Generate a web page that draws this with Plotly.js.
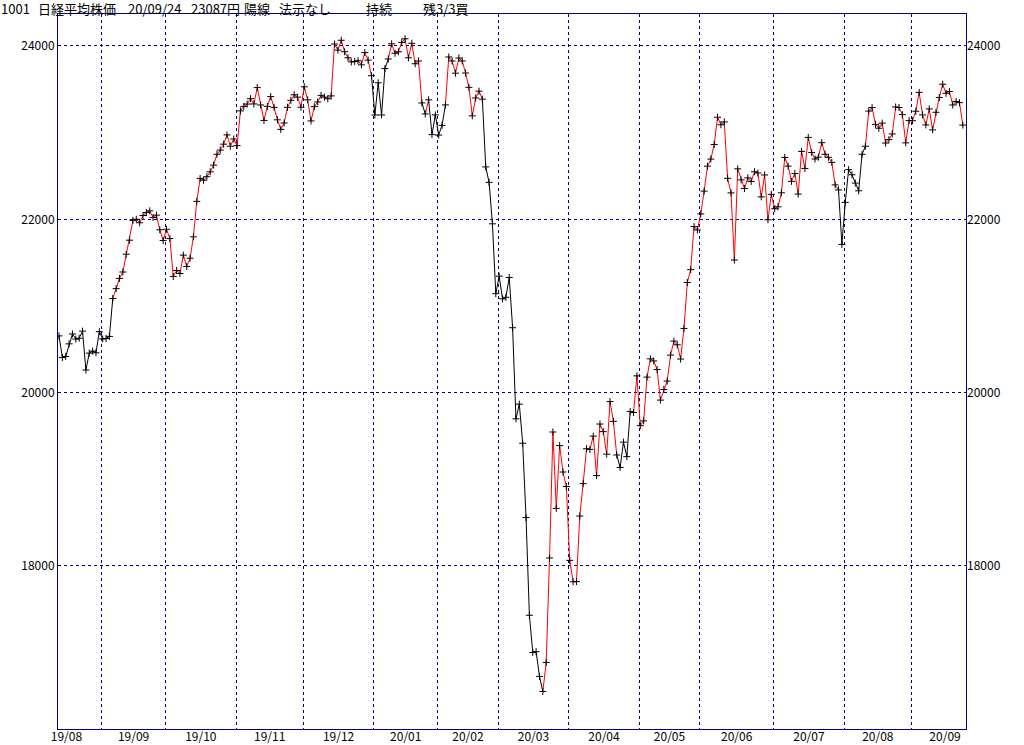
<!DOCTYPE html>
<html>
<head>
<meta charset="utf-8">
<script src="https://cdn.plot.ly/plotly-3.0.1.min.js"></script>
<style>
html,body{margin:0;padding:0;background:#fff;}
#chart{width:1024px;height:745px;}
</style>
</head>
<body>
<div id="chart"></div>
<script>
// Month tick labels
const monthLabels = ['19/08','19/09','19/10','19/11','19/12','20/01','20/02','20/03','20/04','20/05','20/06','20/07','20/08','20/09'];
// Price tick values and labels
const priceTicks = [18000, 20000, 22000, 24000];
const priceLabels = ['18000', '20000', '22000', '24000'];

// Daily closes (Nikkei 225), grouped by month (trading days)
const aug19 = [20655,20405,20418,20563,20677,20618,20628,20710,20261,20456,20479,20460,20704];
const sep19 = [20620,20625,20649,21086,21200,21318,21392,21597,21759,21988,22001,21960,22044,22079,22098,22020,22048,21879,21756];
const oct19 = [21885,21778,21341,21410,21375,21587,21456,21551,21798,22207,22472,22451,22492,22548,22625,22750,22799,22867,22974,22843,22927];
const nov19 = [22850,23251,23303,23330,23392,23331,23520,23319,23141,23303,23416,23292,23148,23038,23112,23292,23373,23437,23409,23293];
const dec19 = [23529,23379,23135,23300,23354,23430,23410,23391,23424,24023,23952,24066,23934,23864,23816,23821,23830,23782,23924,23837,23657];
const jan20 = [23204,23575,23204,23739,23850,24025,23916,23933,24041,24083,23864,24031,23795,23827,23343,23216,23379,22977,23205];
const feb20 = [22972,23084,23320,23873,23827,23686,23861,23827,23688,23523,23194,23400,23479,23386,22605,22426,21948,21142];
const mar20 = [21344,21082,21100,21329,20749,19698,19867,19416,18559,17431,17002,17011,16726,16552,16887,18092,19546,18665,19389,19084,18917];
const apr20 = [18065,17818,17820,18576,18950,19353,19345,19498,19043,19638,19550,19290,19897,19669,19281,19137,19429,19262,19783,19771,20194];
const may20 = [19619,19674,20179,20390,20366,20267,19914,20037,20133,20433,20595,20552,20388,20741,21271,21419,21916,21877];
const jun20 = [22062,22325,22613,22695,22863,23178,23091,23124,22473,22305,21530,22582,22455,22355,22478,22437,22549,22534,22259,22512,21995,22288];
const jul20 = [22122,22145,22306,22714,22614,22438,22529,22291,22784,22587,22945,22770,22696,22717,22884,22751,22715,22657,22397,22339,21710];
const aug20 = [22195,22573,22514,22418,22329,22750,22843,23249,23289,23096,23051,23110,22880,22920,22985,23296,23290,23208,22882,23139];
const sep20 = [23138,23247,23465,23205,23089,23274,23032,23235,23406,23559,23454,23475,23319,23360,23346,23087];

// Trading days in the (partially shown) first and last months
const firstMonthFullDays = 21;
const lastMonthFullDays = 20;

// Position signal changes: month, trading-day index in month, line colour from there
const signalMonth = ['19/09','20/01','20/01','20/01','20/01','20/01','20/02','20/02','20/03','20/04','20/04','20/07','20/08'];
const signalDay   = [4,0,5,15,16,17,3,14,14,15,20,20,7];
const signalColor = ['red','black','red','black','red','black','red','black','red','black','red','black','red'];
const startColor = 'black';

// Header texts
const headerTexts = ['1001','日経平均株価','20/09/24','23087円','陽線','法示なし','持続','残3/3買'];
const headerPx    = [0, 37, 127, 190, 243, 278, 365, 422];

// ---------------------------------------------------------------
const months = [aug19,sep19,oct19,nov19,dec19,jan20,feb20,mar20,apr20,may20,jun20,jul20,aug20,sep20];
const closes = months.flat();
const idx = closes.map((_, i) => i);
const starts = [];
let acc = 0;
months.forEach(m => { starts.push(acc); acc += m.length; });
const N = closes.length;

const boundaries = starts.slice(1).map(s => s - 0.3);
const labelPos = months.map((m, i) => {
  const lo = i === 0 ? boundaries[0] - firstMonthFullDays : boundaries[i - 1];
  const hi = i === months.length - 1 ? boundaries[boundaries.length - 1] + lastMonthFullDays : boundaries[i];
  return (lo + hi) / 2;
});

// segment colour: segColor[i] = colour of segment (i-1 -> i)
const changeAt = {};
signalMonth.forEach((m, k) => {
  const mi = monthLabels.indexOf(m);
  changeAt[starts[mi] + signalDay[k]] = signalColor[k];
});
const segColor = [];
let cur = startColor;
for (let i = 0; i < N; i++) {
  if (changeAt[i] !== undefined) cur = changeAt[i];
  segColor.push(cur);
}
const traces = [];
let runStart = 1;
for (let i = 2; i <= N; i++) {
  if (i === N || segColor[i] !== segColor[runStart]) {
    traces.push({
      x: idx.slice(runStart - 1, i), y: closes.slice(runStart - 1, i),
      type: 'scatter', mode: 'lines',
      line: {color: segColor[runStart] === 'red' ? '#ff0000' : '#000000', width: 1},
      hoverinfo: 'skip', showlegend: false
    });
    runStart = i;
  }
}
traces.push({
  x: idx, y: closes, type: 'scatter', mode: 'markers',
  marker: {symbol: 'cross-thin', size: 5, color: '#000', line: {width: 1, color: '#000'}},
  hoverinfo: 'skip', showlegend: false
});
// carrier for the right-hand axis
traces.push({x: [], y: [], type: 'scatter', mode: 'lines', yaxis: 'y2', showlegend: false, hoverinfo: 'skip'});

const W = 1024, H = 745, ML = 58, MR = 58, MT = 14, MB = 16;
const plotW = W - ML - MR, plotH = H - MT - MB;
const tickFont = {family: '"Noto Sans CJK JP", "DejaVu Sans", sans-serif', size: 12, color: '#000'};
const navy = '#000080';
const yRange = [16119, 24369];

const annotations = headerTexts.map((t, k) => ({
  text: t, xref: 'paper', yref: 'paper',
  x: (headerPx[k] - ML) / plotW, y: (H - MB - 8.5) / plotH,
  xanchor: 'left', yanchor: 'middle', showarrow: false, borderpad: 0,
  font: {family: '"Noto Sans CJK JP", sans-serif', size: 13, color: '#000'}
}));

const layout = {
  width: W, height: H,
  margin: {l: ML, r: MR, t: MT, b: MB, pad: 0},
  paper_bgcolor: '#fff', plot_bgcolor: '#fff',
  showlegend: false, hovermode: false,
  xaxis: {
    range: [-0.3, 269.94], showline: true, linecolor: navy, linewidth: 1, mirror: true,
    zeroline: false, showgrid: false, ticks: '', ticklabelstandoff: -3,
    tickmode: 'array', tickvals: labelPos, ticktext: monthLabels, tickfont: tickFont,
    minor: {tickmode: 'array', tickvals: boundaries, showgrid: true, gridcolor: navy, griddash: '3px,3px', gridwidth: 1, ticks: ''}
  },
  yaxis: {
    range: yRange, showline: true, linecolor: navy, linewidth: 1, mirror: true,
    zeroline: false, showgrid: true, gridcolor: navy, griddash: '3px,3px', gridwidth: 1,
    ticks: '', tickmode: 'array', tickvals: priceTicks, ticktext: priceLabels, tickfont: tickFont
  },
  yaxis2: {
    overlaying: 'y', side: 'right', range: yRange, showline: false, zeroline: false, showgrid: false,
    ticks: '', tickmode: 'array', tickvals: priceTicks, ticktext: priceLabels, tickfont: tickFont
  },
  annotations: annotations
};

Plotly.newPlot('chart', traces, layout, {staticPlot: true, displayModeBar: false});
</script>
</body>
</html>
